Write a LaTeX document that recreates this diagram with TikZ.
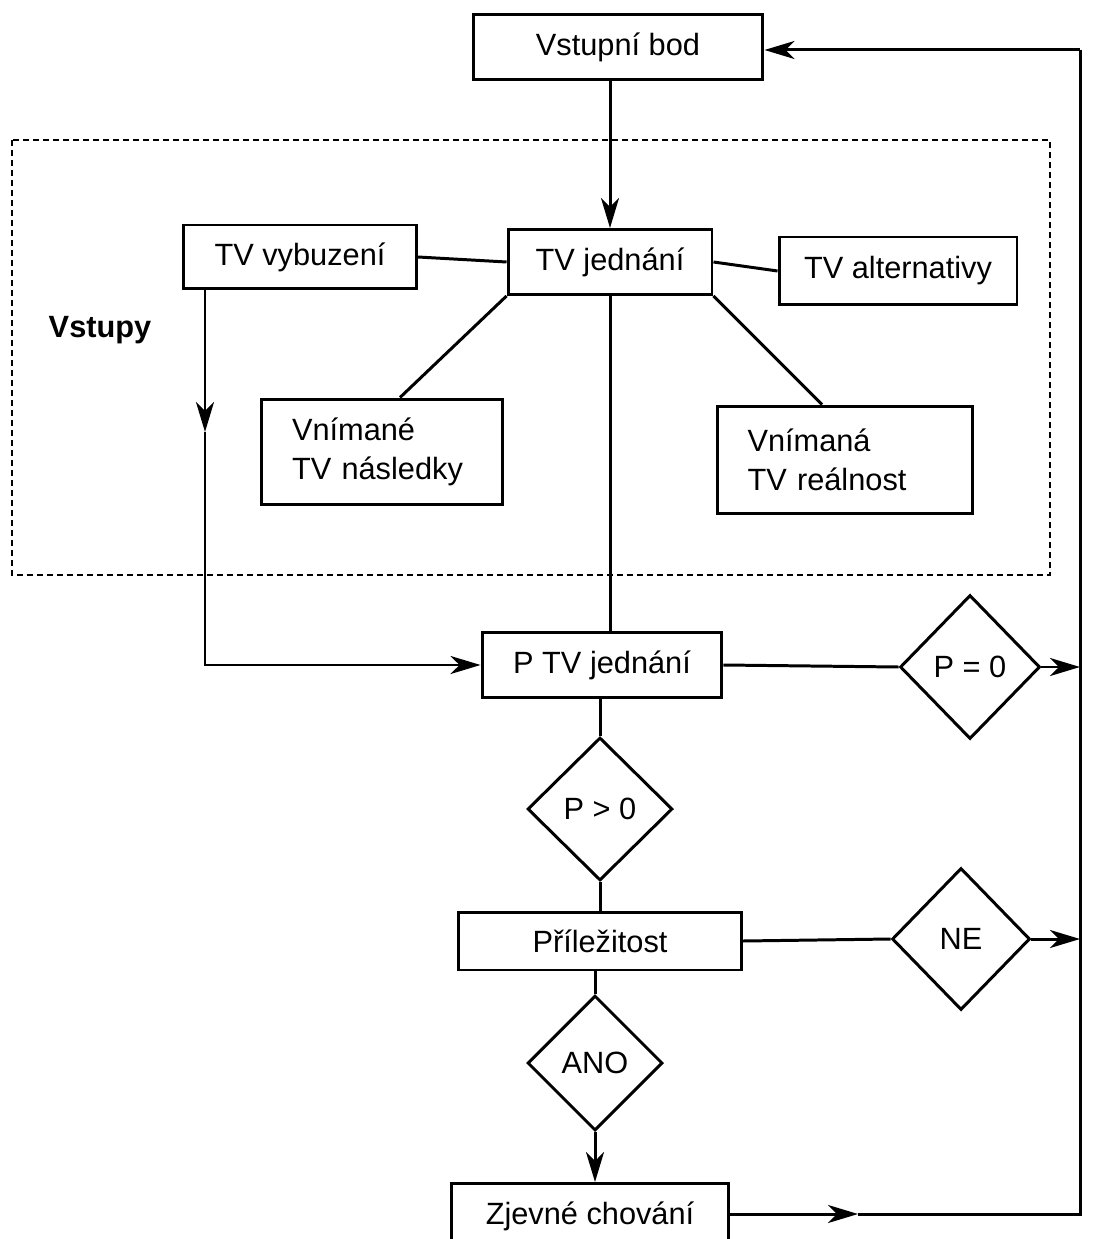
\documentclass[tikz,border=0pt]{standalone}
\usepackage{fontspec}
\setmainfont{Liberation Sans}
\usetikzlibrary{arrows.meta,shapes.geometric}
\begin{document}
\begin{tikzpicture}[x=0.02cm,y=-0.02cm,
  every node/.style={font=\fontsize{17.5}{22}\selectfont},
  box/.style={draw,line width=1.7pt,rectangle,inner sep=0pt,align=center},
  tbox/.style={draw,line width=1.7pt,rectangle,inner ysep=0pt,align=left},
  dia/.style={draw,line width=1.7pt,diamond,inner sep=0pt},
  ln/.style={line width=1.7pt},
  arr/.style={line width=1.7pt,-{Stealth[length=6mm,width=3.6mm,inset=1.8mm]}},
  dbox/.style={line width=1.4pt,dash pattern=on 1.2mm off 0.8mm}]
\useasboundingbox (0,0) rectangle (1096,1239);
\fill[white] (0,0) rectangle (1096,1239);

\draw[dbox] (12,140) rectangle (1050,575);

\node[box,minimum width=5.8cm,minimum height=1.3cm] (vb) at (618,47) {Vstupní bod};
\node[box,minimum width=4.66cm,minimum height=1.28cm] (tvv) at (300,257) {TV vybuzení};
\node[box,minimum width=4.08cm,minimum height=1.3cm] (tvj) at (610,262) {TV jednání};
\node[box,minimum width=4.76cm,minimum height=1.36cm] (tva) at (898,271) {TV alternativy};
\node[font=\fontsize{17.5}{22}\selectfont\bfseries] (vst) at (100,330) {Vstupy};
\node[tbox,inner xsep=0.62cm,text width=3.6cm,minimum height=2.12cm] (vn) at (382,452) {Vnímané\\TV následky};
\node[tbox,inner xsep=0.6cm,text width=3.9cm,minimum height=2.16cm] (vr) at (845,460) {Vnímaná\\TV reálnost};
\node[box,minimum width=4.8cm,minimum height=1.3cm] (ptv) at (602,665) {P TV jednání};
\node[dia,minimum width=2.8cm,minimum height=2.88cm] (p0) at (970,667) {P = 0};
\node[dia,minimum width=2.9cm,minimum height=2.86cm] (pg) at (600,809) {P > 0};
\node[box,minimum width=5.66cm,minimum height=1.16cm] (pr) at (600,941) {Příležitost};
\node[dia,minimum width=2.76cm,minimum height=2.84cm] (ne) at (961,939) {NE};
\node[dia,minimum width=2.7cm,minimum height=2.7cm] (ano) at (595,1063) {ANO};
\node[box,minimum width=5.54cm,minimum height=1.3cm] (zj) at (590,1216) {Zjevné chování};

\coordinate (rt) at (1080,50);
\coordinate (rb) at (1080,1214);
\coordinate (mz) at (858,1214);
\coordinate (tvd) at (205,432);
\coordinate (tvc) at (205,665);

% top part
\draw[arr] (vb.south -| tvj) -- (tvj.north);
\draw[ln] (tvv.east) -- (tvj.west);
\draw[ln] (tvj.east) -- (tva.west);
\draw[ln] (tvj.south west) -- ([xshift=0.36cm]vn.north);
\draw[ln] (tvj.south east) -- ([xshift=-0.46cm]vr.north);
\draw[ln] (tvj.south) -- (tvj.south |- ptv.north);

% left feed
\draw[arr] (tvv.south -| tvd) -- (tvd);
\draw[arr] (tvd) -- (tvc) -- (ptv.west);

% main column
\draw[ln] (ptv.east) -- (p0.west);
\draw[arr] (p0.east) -- (p0.east -| rt);
\draw[ln] (ptv.south -| pg) -- (pg.north);
\draw[ln] (pg.south) -- (pg.south |- pr.north);
\draw[ln] (pr.east) -- (ne.west);
\draw[arr] (ne.east) -- (ne.east -| rt);
\draw[ln] (pr.south -| ano) -- (ano.north);
\draw[arr] (ano.south) -- (ano.south |- zj.north);

% return loop
\draw[arr] (zj.east |- mz) -- (mz);
\draw[ln] (mz) -- (rb) -- (rt);
\draw[arr] (rt) -- (vb.east |- rt);
\end{tikzpicture}
\end{document}
